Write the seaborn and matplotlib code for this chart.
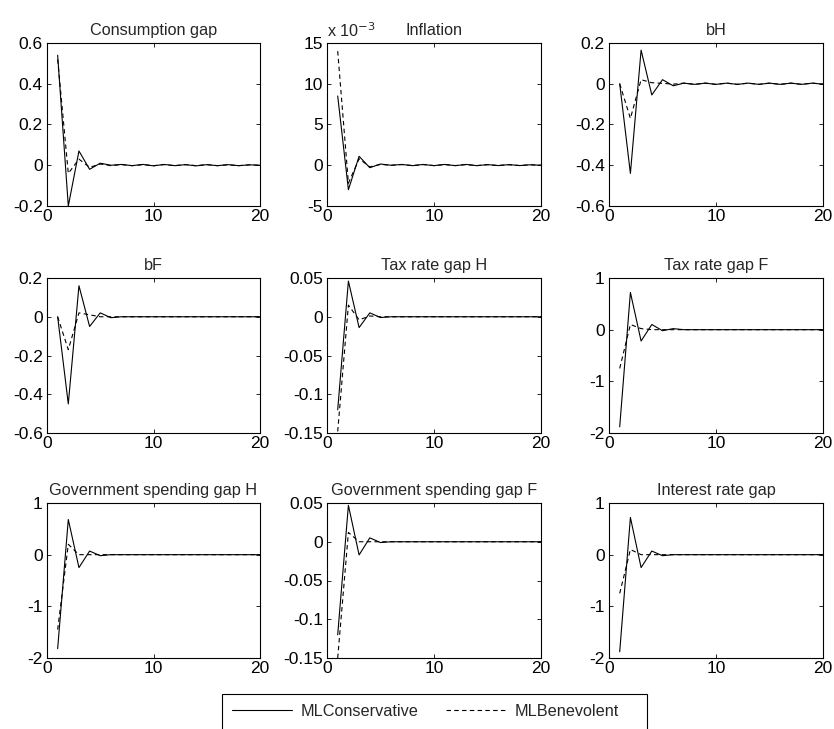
import numpy as np
import pandas as pd
import matplotlib
matplotlib.use("Agg")
import matplotlib.pyplot as plt
import seaborn as sns
from matplotlib.lines import Line2D
from matplotlib.patches import Rectangle

sns.set_style("ticks")
plt.rcParams['font.family'] = ['Liberation Sans', 'DejaVu Sans']

periods = list(range(1, 21))
series_names = ["MLConservative", "MLBenevolent"]

titles = ["Consumption gap", "Inflation", "bH",
          "bF", "Tax rate gap H", "Tax rate gap F",
          "Government spending gap H", "Government spending gap F", "Interest rate gap"]

cons_gap_cons = [0.54, -0.20, 0.07, -0.02, 0.01, 0.0, 0.004, -0.002, 0.004, -0.003, 0.004,
                 -0.002, 0.003, -0.003, 0.003, -0.002, 0.003, -0.002, 0.002, 0.0]
cons_gap_ben = [0.52, -0.04, 0.03, -0.01, 0.006, -0.002, 0.003, -0.002, 0.003, -0.002, 0.003,
                -0.002, 0.003, -0.002, 0.003, -0.002, 0.002, -0.002, 0.002, 0.0]

infl_cons = [8.5, -3.0, 1.1, -0.3, 0.15, 0.0, 0.1, -0.05, 0.1, -0.05, 0.1,
             -0.05, 0.1, -0.05, 0.08, -0.04, 0.08, -0.04, 0.06, 0.0]
infl_ben = [14.0, -2.2, 0.8, -0.2, 0.1, 0.0, 0.08, -0.04, 0.08, -0.04, 0.08,
            -0.04, 0.08, -0.04, 0.06, -0.03, 0.06, -0.03, 0.05, 0.0]

bh_cons = [0.0, -0.44, 0.165, -0.055, 0.02, -0.01, 0.003, -0.003, 0.003, -0.003, 0.003,
           -0.003, 0.003, -0.003, 0.003, -0.003, 0.003, -0.003, 0.003, -0.002]
bh_ben = [0.0, -0.17, 0.02, 0.005, 0.002, -0.002, 0.003, -0.003, 0.003, -0.003, 0.003,
          -0.003, 0.003, -0.003, 0.003, -0.003, 0.003, -0.003, 0.003, -0.002]

bf_cons = [0.0, -0.45, 0.16, -0.05, 0.02, -0.005, 0.0, 0.0, 0.0, 0.0, 0.0,
           0.0, 0.0, 0.0, 0.0, 0.0, 0.0, 0.0, 0.0, 0.0]
bf_ben = [0.0, -0.17, 0.02, 0.01, 0.0, 0.0, 0.0, 0.0, 0.0, 0.0, 0.0,
          0.0, 0.0, 0.0, 0.0, 0.0, 0.0, 0.0, 0.0, 0.0]

taxh_cons = [-0.12, 0.046, -0.014, 0.005, -0.001, 0.0, 0.0, 0.0, 0.0, 0.0, 0.0,
             0.0, 0.0, 0.0, 0.0, 0.0, 0.0, 0.0, 0.0, 0.0]
taxh_ben = [-0.148, 0.015, -0.004, 0.001, 0.0, 0.0, 0.0, 0.0, 0.0, 0.0, 0.0,
            0.0, 0.0, 0.0, 0.0, 0.0, 0.0, 0.0, 0.0, 0.0]

taxf_cons = [-1.88, 0.72, -0.22, 0.1, -0.02, 0.02, 0.0, 0.0, 0.0, 0.0, 0.0,
             0.0, 0.0, 0.0, 0.0, 0.0, 0.0, 0.0, 0.0, 0.0]
taxf_ben = [-0.75, 0.1, 0.02, 0.0, 0.0, 0.0, 0.0, 0.0, 0.0, 0.0, 0.0,
            0.0, 0.0, 0.0, 0.0, 0.0, 0.0, 0.0, 0.0, 0.0]

govh_cons = [-1.82, 0.68, -0.25, 0.07, -0.02, 0.0, 0.0, 0.0, 0.0, 0.0, 0.0,
             0.0, 0.0, 0.0, 0.0, 0.0, 0.0, 0.0, 0.0, 0.0]
govh_ben = [-1.45, 0.2, 0.0, 0.0, 0.0, 0.0, 0.0, 0.0, 0.0, 0.0, 0.0,
            0.0, 0.0, 0.0, 0.0, 0.0, 0.0, 0.0, 0.0, 0.0]

govf_cons = [-0.12, 0.047, -0.017, 0.005, -0.001, 0.0, 0.0, 0.0, 0.0, 0.0, 0.0,
             0.0, 0.0, 0.0, 0.0, 0.0, 0.0, 0.0, 0.0, 0.0]
govf_ben = [-0.15, 0.012, 0.0, 0.0, 0.0, 0.0, 0.0, 0.0, 0.0, 0.0, 0.0,
            0.0, 0.0, 0.0, 0.0, 0.0, 0.0, 0.0, 0.0, 0.0]

int_cons = [-1.88, 0.72, -0.25, 0.07, -0.02, 0.0, 0.0, 0.0, 0.0, 0.0, 0.0,
            0.0, 0.0, 0.0, 0.0, 0.0, 0.0, 0.0, 0.0, 0.0]
int_ben = [-0.75, 0.1, 0.0, 0.0, 0.0, 0.0, 0.0, 0.0, 0.0, 0.0, 0.0,
           0.0, 0.0, 0.0, 0.0, 0.0, 0.0, 0.0, 0.0, 0.0]

panel_data = [(cons_gap_cons, cons_gap_ben), (infl_cons, infl_ben), (bh_cons, bh_ben),
              (bf_cons, bf_ben), (taxh_cons, taxh_ben), (taxf_cons, taxf_ben),
              (govh_cons, govh_ben), (govf_cons, govf_ben), (int_cons, int_ben)]

ylims = [(-0.2, 0.6), (-5, 15), (-0.6, 0.2), (-0.6, 0.2), (-0.15, 0.05), (-2, 1),
         (-2, 1), (-0.15, 0.05), (-2, 1)]
yticks = [[-0.2, 0, 0.2, 0.4, 0.6], [-5, 0, 5, 10, 15], [-0.6, -0.4, -0.2, 0, 0.2],
          [-0.6, -0.4, -0.2, 0, 0.2], [-0.15, -0.1, -0.05, 0, 0.05], [-2, -1, 0, 1],
          [-2, -1, 0, 1], [-0.15, -0.1, -0.05, 0, 0.05], [-2, -1, 0, 1]]
yticklabels = [["-0.2", "0", "0.2", "0.4", "0.6"], ["-5", "0", "5", "10", "15"],
               ["-0.6", "-0.4", "-0.2", "0", "0.2"], ["-0.6", "-0.4", "-0.2", "0", "0.2"],
               ["-0.15", "-0.1", "-0.05", "0", "0.05"], ["-2", "-1", "0", "1"],
               ["-2", "-1", "0", "1"], ["-0.15", "-0.1", "-0.05", "0", "0.05"],
               ["-2", "-1", "0", "1"]]
xticks = [0, 10, 20]

W, H = 834, 729
fig = plt.figure(figsize=(W / 100, H / 100), dpi=100)

col_left = [47, 327, 609]
col_w = [213, 214, 214]
row_top = [43, 278, 503]
row_h = [163, 155, 155]

tick_fs = 12.5
title_fs = 11.7
for i in range(9):
    r, c = divmod(i, 3)
    ax = fig.add_axes([col_left[c] / W, 1 - (row_top[r] + row_h[r]) / H,
                       col_w[c] / W, row_h[r] / H])
    cons, ben = panel_data[i]
    df = pd.DataFrame({
        "t": periods * 2,
        "value": list(cons) + list(ben),
        "series": [series_names[0]] * 20 + [series_names[1]] * 20,
    })
    sns.lineplot(data=df, x="t", y="value", style="series",
                 dashes={series_names[0]: "", series_names[1]: (4, 3)},
                 color="black", linewidth=0.8, ax=ax, legend=False)
    ax.set_xlim(0, 20)
    ax.set_ylim(*ylims[i])
    ax.set_xticks(xticks)
    ax.set_xticklabels([str(v) for v in xticks], fontsize=tick_fs)
    ax.set_yticks(yticks[i])
    ax.set_yticklabels(yticklabels[i], fontsize=tick_fs)
    ax.set_xlabel("")
    ax.set_ylabel("")
    ax.tick_params(direction="in", length=3, width=0.6, top=True, right=True,
                   pad=3, colors="black")
    ax.tick_params(axis="x", pad=2)
    for sp in ax.spines.values():
        sp.set_visible(True)
        sp.set_linewidth(0.8)
        sp.set_color("black")
    ax.set_title(titles[i], fontsize=title_fs, pad=6)
    if i == 1:
        ax.text(0.0, 1.02, r"x 10$^{-3}$", transform=ax.transAxes, fontsize=title_fs,
                ha="left", va="bottom")

handles = [Line2D([], [], color="black", linewidth=0.8, linestyle="-"),
           Line2D([], [], color="black", linewidth=0.8, linestyle=(0, (4, 3)))]
leg = fig.legend(handles, series_names, loc="upper left", ncol=2,
                 bbox_to_anchor=(222 / W, 1 - 694 / H), frameon=False,
                 fontsize=11.7, handlelength=3.7, handletextpad=0.55,
                 columnspacing=1.65, borderpad=0.6, borderaxespad=0)

# legend box outline (MATLAB-style, extends past the bottom edge)
fig.add_artist(Rectangle((222 / W, -10 / H), (647 - 222) / W, (10 + 729 - 694) / H,
                         transform=fig.transFigure, fill=False, edgecolor="black",
                         linewidth=0.8))

fig.savefig("out.png", dpi=100, facecolor="white")
